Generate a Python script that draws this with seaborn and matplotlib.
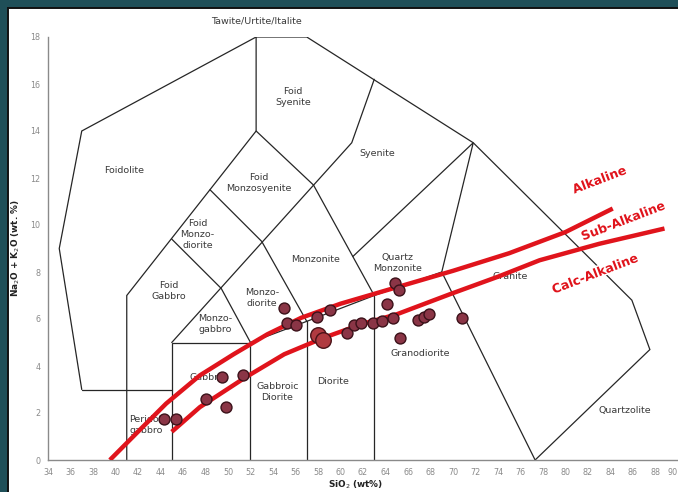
import matplotlib
matplotlib.use("Agg")
import matplotlib.pyplot as plt
import matplotlib.patheffects as pe
from matplotlib.patches import Rectangle
import pandas as pd
import seaborn as sns

# ---- sample analyses (SiO2 wt%, Na2O+K2O wt%) ----
sio2 = [44.3, 45.4, 48.0, 49.8, 49.5, 51.3, 55.0, 55.2, 56.0, 57.9, 59.1,
        60.6, 61.2, 61.8, 62.9, 63.7, 64.7, 64.1, 64.8, 65.2, 65.3, 66.9,
        67.4, 67.9, 70.8]
alkali = [1.75, 1.75, 2.6, 2.25, 3.55, 3.6, 6.45, 5.85, 5.75, 6.1, 6.4,
          5.4, 5.75, 5.85, 5.85, 5.9, 6.05, 6.65, 7.55, 7.25, 5.2, 5.95,
          6.1, 6.2, 6.05]
sio2_big = [58.0, 58.4]
alkali_big = [5.3, 5.1]

# ---- alkaline / sub-alkaline / calc-alkaline dividing curves ----
alk_div_x = [39.5, 42.2, 44.5, 47.5, 50.5, 53.5, 56.5, 60.0, 65.0, 70.0, 75.0, 80.0, 84.2]
alk_div_y = [0.0, 1.3, 2.4, 3.6, 4.5, 5.35, 6.05, 6.65, 7.35, 8.05, 8.8, 9.7, 10.7]
calc_div_x = [45.0, 47.5, 51.5, 55.0, 58.5, 62.0, 65.0, 69.7, 74.0, 77.7, 83.0, 88.8]
calc_div_y = [1.2, 2.25, 3.5, 4.5, 5.2, 5.8, 6.2, 7.05, 7.8, 8.5, 9.2, 9.85]

# ---- field boundaries of the plutonic TAS diagram ----
boundaries = [
    [(37, 3), (35, 9), (37, 14), (52.5, 18), (57, 18), (71.8, 13.5),
     (85.9, 6.8), (87.5, 4.7), (77.3, 0)],
    [(37, 3), (45, 3)],
    [(41, 0), (41, 7), (52.5, 14), (52.5, 18)],
    [(45, 0), (45, 5), (52, 5)],
    [(52, 0), (52, 5), (57, 5.9), (63, 7), (69, 8), (77.3, 0)],
    [(57, 0), (57, 5.9)],
    [(63, 0), (63, 7)],
    [(45, 5), (61, 13.5), (63, 16.2)],
    [(45, 9.4), (49.4, 7.3), (52, 5)],
    [(48.4, 11.5), (53, 9.3), (57, 5.9)],
    [(52.5, 14), (57.6, 11.7), (63, 7)],
    [(61.1, 8.66), (71.8, 13.5), (69, 8)],
]

field_names = ["Foidolite", "Foid\nSyenite", "Syenite", "Foid\nMonzosyenite",
               "Foid\nMonzo-\ndiorite", "Monzonite", "Quartz\nMonzonite",
               "Foid\nGabbro", "Monzo-\ndiorite", "Monzo-\ngabbro", "Granite",
               "Granodiorite", "Diorite", "Gabbroic\nDiorite", "Gabbro",
               "Peridot\ngabbro", "Quartzolite"]
field_x = [40.8, 55.8, 63.3, 52.7, 47.3, 57.8, 65.1, 44.7, 53.0, 48.9, 75.1,
           67.1, 59.3, 54.4, 48.1, 42.7, 85.3]
field_y = [12.3, 15.45, 13.05, 11.8, 9.6, 8.55, 8.4, 7.2, 6.9, 5.8, 7.8,
           4.55, 3.35, 2.9, 3.5, 1.5, 2.1]

series_names = ["Alkaline", "Sub-Alkaline", "Calc-Alkaline"]
series_x = [83.0, 85.1, 82.6]
series_y = [11.9, 10.15, 7.9]

xticks = list(range(34, 92, 2))
yticks = list(range(0, 20, 2))

W, H = 678, 492
sns.set_style("white")
plt.rcParams["font.family"] = ["DejaVu Sans"]

fig = plt.figure(figsize=(W / 100, H / 100), dpi=100)
fig.patch.set_facecolor("#1f4f58")
fig.patches.append(Rectangle((7.5 / W, -0.01), 1.0, (H - 8) / H + 0.01,
                             transform=fig.transFigure, facecolor="white",
                             edgecolor="#111111", linewidth=1.4, zorder=-10))

ax = fig.add_axes([48 / W, 32 / H, 630 / W, 423 / H])
ax.set_facecolor("white")

for poly in boundaries:
    xs, ys = zip(*poly)
    ax.plot(xs, ys, color="#262626", lw=0.9, zorder=2, solid_joinstyle="miter")

for name, x, y in zip(field_names, field_x, field_y):
    ax.text(x, y, name, ha="center", va="center", fontsize=6.8,
            color="#3a3a3a", linespacing=1.3, zorder=3)

ax.text(52.5, 18.7, "Tawite/Urtite/Italite", ha="center", va="center",
        fontsize=6.8, color="#3a3a3a", clip_on=False)

red = "#e0141c"
sns.lineplot(x=alk_div_x, y=alk_div_y, sort=False, estimator=None, ax=ax,
             color=red, lw=3.2, zorder=4, solid_capstyle="butt")
sns.lineplot(x=calc_div_x, y=calc_div_y, sort=False, estimator=None, ax=ax,
             color=red, lw=3.2, zorder=4, solid_capstyle="butt")

pts = pd.DataFrame({"SiO2": sio2, "alk": alkali})
big = pd.DataFrame({"SiO2": sio2_big, "alk": alkali_big})
sns.scatterplot(data=pts, x="SiO2", y="alk", ax=ax, s=62, color="#8a3546",
                edgecolor="#3b1119", linewidth=1.0, zorder=5)
sns.scatterplot(data=big, x="SiO2", y="alk", ax=ax, s=125, color="#b03a40",
                edgecolor="#4a1218", linewidth=1.0, zorder=5)

for name, x, y in zip(series_names, series_x, series_y):
    ax.text(x, y, name, ha="center", va="center", rotation=21, fontsize=9,
            fontweight="bold", color=red, zorder=6,
            path_effects=[pe.withStroke(linewidth=2.2, foreground="white")])

ax.set_xlim(34, 90)
ax.set_ylim(0, 18)
ax.set_xticks(xticks)
ax.set_yticks(yticks)
ax.set_xlabel("")
ax.set_ylabel("")
ax.tick_params(axis="both", direction="inout", length=5, width=0.8,
               color="#8a8a8a", labelsize=5.8, labelcolor="#8a8a8a", pad=3)
ax.get_xticklabels()[-1].set_ha("right")
for side in ("top", "right"):
    ax.spines[side].set_visible(False)
for side in ("left", "bottom"):
    ax.spines[side].set_color("#8a8a8a")
    ax.spines[side].set_linewidth(1.0)

fig.text(16 / W, 1 - 248 / H, "Na$_2$O + K$_2$O (wt. %)", rotation=90,
         ha="center", va="center", fontsize=6.4, fontweight="bold",
         color="#222222")
fig.text(356 / W, 1 / H, "SiO$_2$ (wt%)", ha="center", va="bottom",
         fontsize=6.4, fontweight="bold", color="#222222")

fig.savefig("out.png", dpi=100, facecolor=fig.get_facecolor())
